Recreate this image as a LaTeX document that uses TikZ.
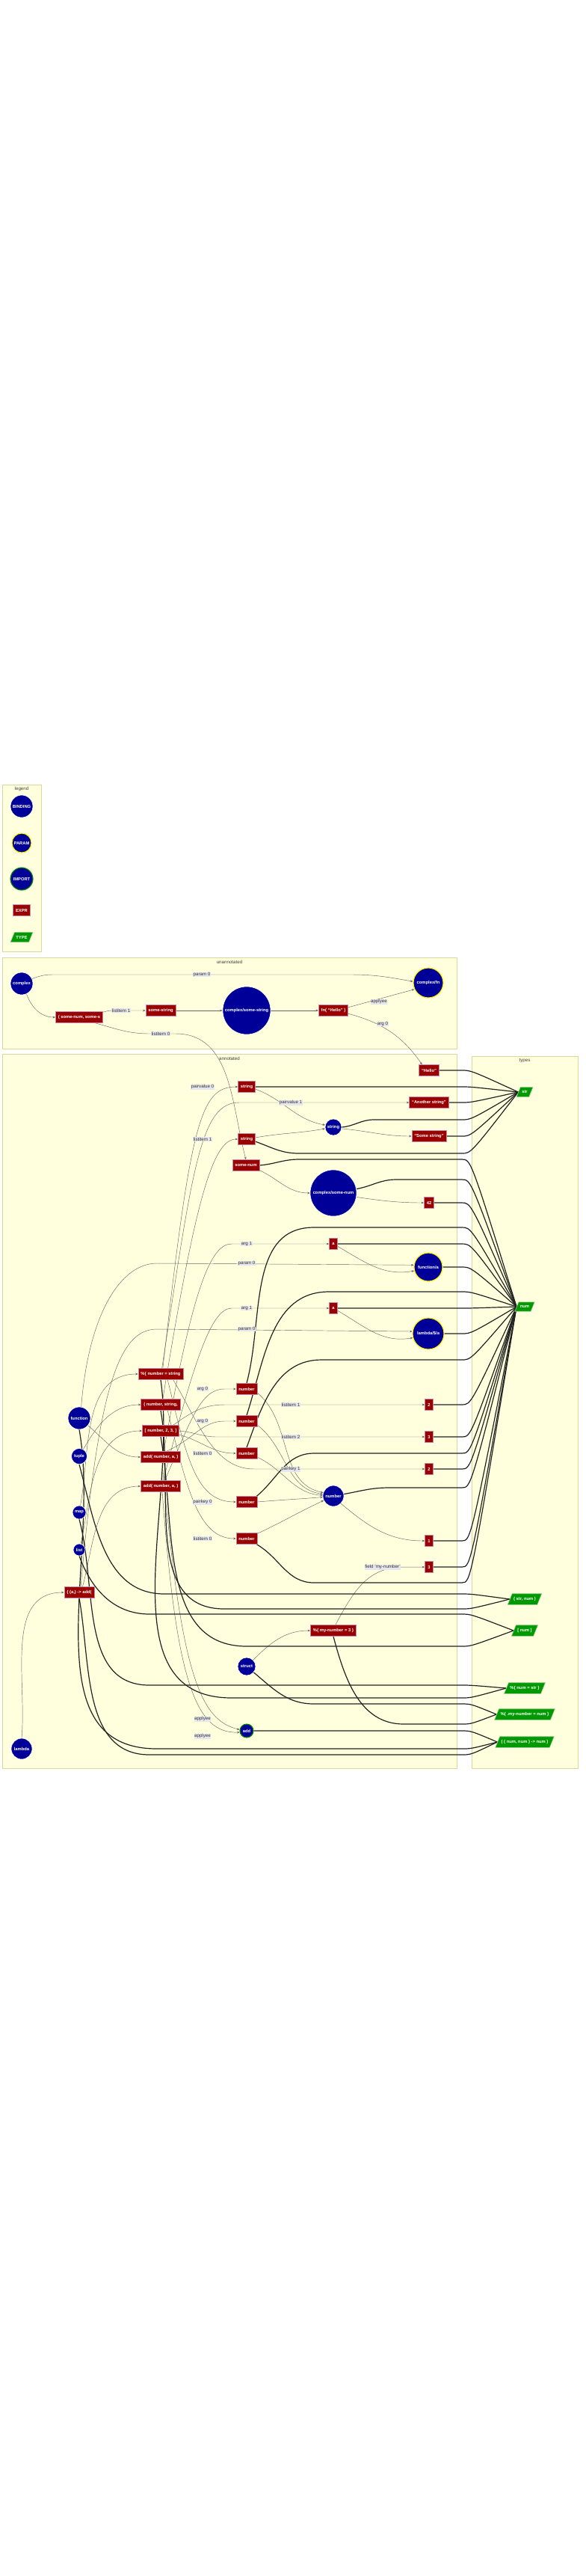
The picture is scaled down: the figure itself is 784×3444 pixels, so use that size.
\documentclass[tikz,border=0pt]{standalone}
\usepackage{fontspec}
\setmainfont{Liberation Sans}
\usetikzlibrary{shapes.geometric,arrows.meta}
\definecolor{clfill}{HTML}{FFFFDD}
\definecolor{cldraw}{HTML}{D9D99A}
\definecolor{bindblue}{HTML}{000099}
\definecolor{exprred}{HTML}{990000}
\definecolor{exprborder}{HTML}{C78AAE}
\definecolor{typegreen}{HTML}{009900}
\definecolor{typeborder}{HTML}{99CC99}
\definecolor{lblbg}{HTML}{E6E6EE}
\definecolor{thinline}{HTML}{666666}
\definecolor{thickline}{HTML}{222222}
\newcommand{\myNodeFont}{\fontsize{5.8}{6.5}\selectfont\bfseries}
\newcommand{\myLabelFont}{\fontsize{6.2}{7}\selectfont}
\pgfdeclarelayer{bg}\pgfdeclarelayer{edges}\pgfsetlayers{bg,edges,main}
\begin{document}
\begin{tikzpicture}[x=1pt,y=1pt,
 cluster/.style={fill=clfill,draw=cldraw,line width=0.8pt},
 ctitle/.style={font=\myLabelFont,text=black!75},
 binding/.style={circle,fill=bindblue,draw=white,line width=0.6pt,text=white,font=\myNodeFont,inner sep=0pt,minimum size=#1},
 param/.style={binding=#1,draw=yellow,line width=1.1pt},
 import/.style={binding=#1,draw=green!55!black,line width=1.1pt},
 expr/.style={rectangle,fill=exprred,draw=exprborder,line width=0.6pt,text=white,font=\myNodeFont,minimum height=15pt,minimum width=11pt,inner xsep=3.5pt,inner ysep=0pt},
 typenode/.style={trapezium,trapezium left angle=68,trapezium right angle=112,trapezium stretches body=true,fill=typegreen,draw=typeborder,line width=0.6pt,text=white,font=\myNodeFont,inner xsep=2pt,inner ysep=4.6pt},
 elabel/.style={fill=lblbg,text=black!80,font=\myLabelFont,inner sep=0.6pt},
 thinedge/.style={draw=thinline,line width=0.45pt,-{Stealth[length=3.5pt,width=2.8pt]}},
 thickedge/.style={draw=thickline,line width=1.2pt},
]
\useasboundingbox (0,0) rectangle (784,-3444);
\begin{pgfonlayer}{bg}
\fill[white] (0,0) rectangle (784,-3444);
\draw[cluster] (3,-1049) rectangle (55,-1272);
\draw[cluster] (3,-1280) rectangle (611,-1402);
\draw[cluster] (3,-1409) rectangle (611,-2364);
\draw[cluster] (631,-1412) rectangle (773,-2364);
\end{pgfonlayer}

% ---------- legend
\node[ctitle] (tLegend) at (29,-1055) {legend};
\node[binding=30pt] (legBinding) at (29,-1078) {BINDING};
\node[param=26pt] (legParam) at (29,-1127) {PARAM};
\node[import=30pt] (legImport) at (29,-1175) {IMPORT};
\node[expr] (legExpr) at (29,-1217) {EXPR};
\node[typenode] (legType) at (29,-1253) {TYPE};

% ---------- unannotated
\node[ctitle] (tUnann) at (307,-1286) {unannotated};
\node[binding=30pt] (uComplex) at (29,-1315) {complex};
\node[expr] (uTuple) at (106,-1360) {( some-num, some-s};
\node[expr] (uSomeString) at (215,-1351) {some-string};
\node[binding=64pt] (uCSS) at (330,-1351) {complex/some-string};
\node[expr] (uFn) at (446,-1351) {fn( “Hello” )};
\node[param=40pt] (uCFn) at (573,-1314) {complex/fn};

% ---------- annotated
\node[ctitle] (tAnn) at (307,-1415) {annotated};
\node[expr] (aStrA) at (330,-1453) {string};
\node[expr] (aStrB) at (330,-1523) {string};
\node[expr] (aSomeNum) at (329,-1558) {some-num};
\node[expr] (aHello) at (574,-1431) {“Hello”};
\node[expr] (aAnother) at (574,-1474) {“Another string”};
\node[binding=22pt] (bString) at (446,-1507) {string};
\node[expr] (aSome) at (574,-1519) {“Some string”};
\node[binding=62pt] (bCSN) at (446,-1595) {complex/some-num};
\node[expr] (a42) at (574,-1608) {42};
\node[expr] (aA1) at (446,-1663) {a};
\node[param=38pt] (pFA) at (573,-1694) {function/a};
\node[expr] (aA2) at (446,-1749) {a};
\node[param=42pt] (pLA) at (573,-1783) {lambda/\$/a};
\node[expr] (aMapE) at (215,-1837) {\%\{ number = string};
\node[expr] (aN1) at (330,-1857) {number};
\node[expr] (aTupE) at (215,-1878) {( number, string,};
\node[expr] (a2A) at (574,-1878) {2};
\node[binding=30pt] (bFunction) at (106,-1896) {function};
\node[expr] (aN2) at (330,-1900) {number};
\node[expr] (aListE) at (215,-1913) {[ number, 2, 3, ]};
\node[expr] (a3A) at (574,-1921) {3};
\node[expr] (aN3) at (330,-1943) {number};
\node[binding=21pt] (bTuple) at (106,-1947) {tuple};
\node[expr] (aAdd1) at (215,-1948) {add( number, a, )};
\node[expr] (a2B) at (574,-1964) {2};
\node[expr] (aAdd2) at (215,-1987) {add( number, a, )};
\node[binding=28pt] (bNumber) at (446,-2000) {number};
\node[expr] (aN4) at (330,-2008) {number};
\node[binding=18pt] (bMap) at (106,-2022) {map};
\node[expr] (aN5) at (330,-2057) {number};
\node[expr] (a1) at (574,-2060) {1};
\node[binding=16pt] (bList) at (106,-2072) {list};
\node[expr] (a3C) at (574,-2095) {3};
\node[expr] (aLam) at (106,-2129) {\{ (a,) -> add(};
\node[expr] (aStruct) at (446,-2180) {\%\{ my-number = 3 \}};
\node[binding=24pt] (bStruct) at (330,-2228) {struct};
\node[import=18pt] (iAdd) at (330,-2314) {add};
\node[binding=28pt] (bLambda) at (29,-2338) {lambda};

% ---------- types
\node[ctitle] (tTypes) at (702,-1418) {types};
\node[typenode] (tStr) at (702,-1460) {str};
\node[typenode] (tNum) at (702,-1747) {num};
\node[typenode] (tStrNum) at (702,-2138) {( str, num )};
\node[typenode] (tListNum) at (702,-2180) {[ num ]};
\node[typenode] (tMap) at (702,-2257) {\%\{ num = str \}};
\node[typenode] (tStruct) at (702,-2292) {\%\{ .my-number = num \}};
\node[typenode] (tFn) at (702,-2329) {( ( num, num ) -> num )};

\begin{pgfonlayer}{edges}
% ---- thin edges, unannotated
\draw[thinedge] (uComplex.25) to[out=20,in=180] (70,-1303) -- (470,-1303) to[out=0,in=170] (uCFn.175);
\draw[thinedge] (uComplex.-65) to[out=-70,in=180] (uTuple.west);
\draw[thinedge] (uTuple.12) to[out=15,in=180] (150,-1351) -- (uSomeString.west);
\draw[thinedge] (uSomeString.east) -- (uCSS.west);
\draw[thinedge] (uCSS.east) -- (uFn.west);
\draw[thinedge] (uFn.12) -- (uCFn.205);
\draw[thinedge] (uFn.-12) to[out=-15,in=125] (aHello.140);
\draw[thinedge] (uTuple.-20) to[out=-15,in=180] (200,-1382) -- (235,-1382) to[out=0,in=105] (aSomeNum.north);
% ---- thin edges, annotated
\draw[thinedge] (aMapE.70) .. controls (255,-1500) and (268,-1453) .. (aStrA.west);
\draw[thinedge] (aMapE.78) .. controls (258,-1560) and (268,-1474) .. (320,-1474) -- (aAnother.west);
\draw[thinedge] (aTupE.70) .. controls (262,-1600) and (285,-1523) .. (aStrB.west);
\draw[thinedge] (aStrA.-15) to[out=-20,in=170] (bString.165);
\draw[thinedge] (aStrB.10) to[out=10,in=190] (bString.190);
\draw[thinedge] (bString.-10) to[out=-5,in=180] (aSome.west);
\draw[thinedge] (aSomeNum.-20) to[out=-25,in=180] (bCSN.west);
\draw[thinedge] (bCSN.-10) to[out=-8,in=180] (a42.west);
\draw[thinedge] (aAdd1.62) .. controls (258,-1720) and (282,-1663) .. (310,-1663) -- (aA1.west);
\draw[thinedge] (bFunction.80) .. controls (118,-1760) and (160,-1689) .. (210,-1689) -- (pFA.172);
\draw[thinedge] (aAdd2.66) .. controls (262,-1810) and (284,-1749) .. (310,-1749) -- (aA2.west);
\draw[thinedge] (aLam.75) .. controls (132,-1850) and (160,-1777) .. (210,-1777) -- (pLA.172);
\draw[thinedge] (aA1.-30) to[out=-30,in=190] (pFA.195);
\draw[thinedge] (aA2.-30) to[out=-30,in=190] (pLA.195);
\draw[thinedge] (bMap.80) to[out=80,in=180] (aMapE.west);
\draw[thinedge] (bTuple.60) to[out=60,in=180] (aTupE.west);
\draw[thinedge] (bList.75) to[out=78,in=180] (aListE.west);
\draw[thinedge] (bFunction.-40) to[out=-40,in=180] (aAdd1.west);
\draw[thinedge] (aLam.60) to[out=75,in=180] (aAdd2.west);
\draw[thinedge] (bLambda.north) to[out=85,in=180] (aLam.west);
\draw[thinedge] (aAdd2.55) .. controls (255,-1900) and (268,-1857) .. (300,-1857) -- (aN1.west);
\draw[thinedge] (aAdd1.45) .. controls (258,-1925) and (270,-1900) .. (300,-1900) -- (aN2.west);
\draw[thinedge] (aListE.-12) to[out=-15,in=180] (aN3.west);
\draw[thinedge] (aListE.25) to[out=35,in=180] (300,-1878) -- (a2A.west);
\draw[thinedge] (aListE.east) to[out=-5,in=180] (290,-1921) -- (a3A.west);
\draw[thinedge] (aMapE.-40) .. controls (250,-1950) and (262,-2008) .. (aN4.west);
\draw[thinedge] (aMapE.-25) .. controls (265,-1900) and (285,-1964) .. (340,-1964) -- (a2B.west);
\draw[thinedge] (aTupE.-40) .. controls (250,-1990) and (265,-2057) .. (aN5.west);
\draw[thinedge] (aN1.-20) to[out=-40,in=168] (bNumber.162);
\draw[thinedge] (aN2.-20) to[out=-38,in=172] (bNumber.170);
\draw[thinedge] (aN3.-20) to[out=-25,in=176] (bNumber.177);
\draw[thinedge] (aN4.east) to[out=5,in=185] (bNumber.186);
\draw[thinedge] (aN5.25) to[out=25,in=205] (bNumber.205);
\draw[thinedge] (bNumber.-45) to[out=-40,in=180] (a1.west);
\draw[thinedge] (bStruct.45) to[out=45,in=180] (aStruct.west);
\draw[thinedge] (aStruct.70) .. controls (472,-2130) and (490,-2095) .. (540,-2095) -- (a3C.west);
\draw[thinedge] (aAdd1.-75) .. controls (242,-2240) and (268,-2300) .. (iAdd.170);
\draw[thinedge] (aAdd2.-75) .. controls (236,-2250) and (262,-2318) .. (iAdd.192);

% ---- thick edges to str
\draw[thickedge] (aHello.east) -- (618,-1431) .. controls (630,-1431) .. (tStr.west);
\draw[thickedge] (aStrA.east) -- (618,-1453) .. controls (630,-1453) .. (tStr.west);
\draw[thickedge] (aAnother.east) -- (618,-1474) .. controls (630,-1474) .. (tStr.west);
\draw[thickedge] (bString.east) to[out=5,in=180] (500,-1497) -- (618,-1497) .. controls (630,-1497) .. (tStr.west);
\draw[thickedge] (aSome.east) -- (618,-1519) .. controls (630,-1519) .. (tStr.west);
\draw[thickedge] (aStrB.-15) to[out=-20,in=180] (400,-1542) -- (618,-1542) .. controls (630,-1542) .. (tStr.west);
% ---- thick edges to num
\draw[thickedge] (aSomeNum.east) to[out=5,in=180] (400,-1550) -- (618,-1550) .. controls (630,-1550) .. (tNum.west);
\draw[thickedge] (bCSN.10) to[out=10,in=180] (530,-1577) -- (618,-1577) .. controls (630,-1577) .. (tNum.west);
\draw[thickedge] (a42.east) -- (618,-1608) .. controls (630,-1608) .. (tNum.west);
\draw[thickedge] (aN1.north) to[out=75,in=180] (420,-1641) -- (618,-1641) .. controls (630,-1641) .. (tNum.west);
\draw[thickedge] (aA1.east) -- (618,-1663) .. controls (630,-1663) .. (tNum.west);
\draw[thickedge] (pFA.east) -- (618,-1694) .. controls (630,-1694) .. (tNum.west);
\draw[thickedge] (aN2.north) to[out=72,in=180] (440,-1727) -- (618,-1727) .. controls (630,-1727) .. (tNum.west);
\draw[thickedge] (aA2.east) -- (618,-1749) .. controls (630,-1749) .. (tNum.west);
\draw[thickedge] (pLA.east) -- (618,-1783) .. controls (630,-1783) .. (tNum.west);
\draw[thickedge] (aN3.north) to[out=70,in=180] (430,-1818) -- (618,-1818) .. controls (630,-1818) .. (tNum.west);
\draw[thickedge] (a2A.east) -- (618,-1878) .. controls (630,-1878) .. (tNum.west);
\draw[thickedge] (a3A.east) -- (618,-1921) .. controls (630,-1921) .. (tNum.west);
\draw[thickedge] (aN4.30) to[out=40,in=180] (420,-1943) -- (618,-1943) .. controls (630,-1943) .. (tNum.west);
\draw[thickedge] (a2B.east) -- (618,-1964) .. controls (630,-1964) .. (tNum.west);
\draw[thickedge] (bNumber.10) to[out=10,in=180] (520,-1989) -- (618,-1989) .. controls (630,-1989) .. (tNum.west);
\draw[thickedge] (a1.east) -- (618,-2060) .. controls (630,-2060) .. (tNum.west);
\draw[thickedge] (a3C.east) -- (618,-2095) .. controls (630,-2095) .. (tNum.west);
\draw[thickedge] (aN5.-30) to[out=-30,in=180] (420,-2116) -- (618,-2116) .. controls (630,-2116) .. (tNum.west);
% ---- thick edges to other types
\draw[thickedge] (bTuple.south) to[out=-75,in=180] (220,-2131) -- (618,-2131) .. controls (630,-2131) .. (tStrNum.west);
\draw[thickedge] (aTupE.south) to[out=-80,in=180] (300,-2151) -- (618,-2151) .. controls (630,-2151) .. (tStrNum.west);
\draw[thickedge] (bList.south) to[out=-70,in=180] (200,-2158) -- (618,-2158) .. controls (630,-2158) .. (tListNum.west);
\draw[thickedge] (aListE.south) to[out=-80,in=180] (330,-2201) -- (618,-2201) .. controls (630,-2201) .. (tListNum.west);
\draw[thickedge] (bMap.south) to[out=-75,in=180] (200,-2253) -- (618,-2253) .. controls (630,-2253) .. (tMap.west);
\draw[thickedge] (aMapE.south) to[out=-82,in=180] (310,-2270) -- (618,-2270) .. controls (630,-2270) .. (tMap.west);
\draw[thickedge] (bStruct.-40) to[out=-40,in=180] (420,-2278) -- (618,-2278) .. controls (630,-2278) .. (tStruct.west);
\draw[thickedge] (aStruct.south) to[out=-75,in=180] (540,-2305) -- (618,-2305) .. controls (630,-2305) .. (tStruct.west);
\draw[thickedge] (iAdd.east) -- (618,-2314) .. controls (630,-2314) .. (tFn.west);
\draw[thickedge] (bFunction.south) to[out=-80,in=180] (210,-2338) -- (618,-2338) .. controls (630,-2338) .. (tFn.west);
\draw[thickedge] (aLam.south) to[out=-80,in=180] (200,-2346) -- (618,-2346) .. controls (630,-2346) .. (tFn.west);
\end{pgfonlayer}

% ---------- edge labels
\node[elabel] (l1) at (270,-1303) {param 0};
\node[elabel] (l2) at (162,-1351) {listitem 1};
\node[elabel] (l3) at (507,-1339) {applyee};
\node[elabel] (l4) at (512,-1369) {arg 0};
\node[elabel] (l5) at (215,-1382) {listitem 0};
\node[elabel] (l6) at (271,-1453) {pairvalue 0};
\node[elabel] (l7) at (389,-1474) {pairvalue 1};
\node[elabel] (l8) at (271,-1523) {listitem 1};
\node[elabel] (l9) at (330,-1663) {arg 1};
\node[elabel] (l10) at (330,-1689) {param 0};
\node[elabel] (l11) at (330,-1749) {arg 1};
\node[elabel] (l12) at (330,-1777) {param 0};
\node[elabel] (l13) at (271,-1857) {arg 0};
\node[elabel] (l14) at (389,-1878) {listitem 1};
\node[elabel] (l15) at (271,-1900) {arg 0};
\node[elabel] (l16) at (389,-1921) {listitem 2};
\node[elabel] (l17) at (271,-1943) {listitem 0};
\node[elabel] (l18) at (389,-1964) {pairkey 1};
\node[elabel] (l19) at (271,-2008) {pairkey 0};
\node[elabel] (l20) at (271,-2057) {listitem 0};
\node[elabel] (l21) at (512,-2095) {field 'my-number'};
\node[elabel] (l22) at (271,-2298) {applyee};
\node[elabel] (l23) at (271,-2321) {applyee};
\end{tikzpicture}
\end{document}
